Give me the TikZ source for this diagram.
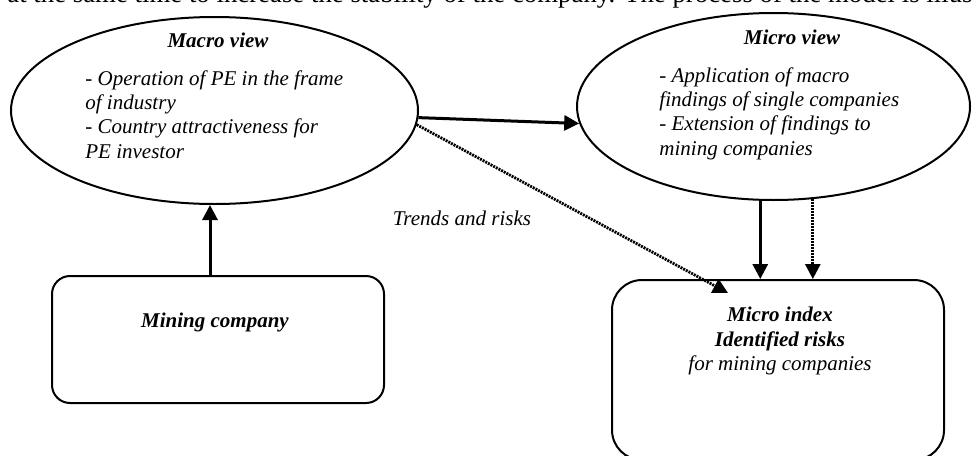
\documentclass[tikz,border=0pt]{standalone}
\usepackage{fontspec}
\setmainfont{Liberation Serif}
\usetikzlibrary{shapes.geometric,arrows.meta}

\begin{document}
\begin{tikzpicture}[
    x=0.5pt, y=-0.5pt,
    view/.style={draw, ellipse, line width=1pt, inner sep=0pt},
    box/.style={draw, rounded corners=9pt, line width=1pt, minimum width=166pt, inner sep=0pt},
    txt/.style={font=\fontsize{10.5}{12.2}\selectfont\itshape, inner sep=0pt},
    head/.style={txt, font=\fontsize{10.5}{12.2}\selectfont\bfseries\itshape},
    arr/.style={-{Triangle[length=7.5pt,width=7.5pt]}, line width=1.5pt},
    dotarr/.style={arr, line width=1.4pt, dash pattern=on 1pt off 0.5pt}
]
    \useasboundingbox (0,0) rectangle (972,455);

    % running text above the figure
    \node[anchor=base west, inner sep=0pt, font=\fontsize{13.4}{15}\selectfont] (above) at (7,3) {at the same time to increase the stability of the company. The process of the model is illustrated};

    % Macro
    \node[view, minimum width=203.5pt, minimum height=93.5pt] (macro) at (214.5,110.5) {};
    \node[head] (macrohead) at (218,40) {Macro view};
    \node[txt, align=left, anchor=north west] (macrotext) at (85,70) {- Operation of PE in the frame\\of industry\\- Country attractiveness for\\PE investor};

    % Micro
    \node[view, minimum width=196.5pt, minimum height=93.5pt] (micro) at (773.5,106.5) {};
    \node[head] (microhead) at (792,37) {Micro view};
    \node[txt, align=left, anchor=north west] (microtext) at (659,67) {- Application of macro\\findings of single companies\\- Extension of findings to\\mining companies};

    % Boxes
    \node[box, minimum height=63.5pt] (mining) at (218,339.5) {};
    \node[head] (mininghead) at (215,322) {Mining company};
    \node[box, rounded corners=15pt, minimum height=90pt] (index) at (778,370) {};
    \node[txt, align=center] (indextext) at (780,341) {\textbf{Micro index}\\\textbf{Identified risks}\\for mining companies};

    \node[txt] (trends) at (462,218) {Trends and risks};
    \coordinate (trendend) at (728,293);
    \coordinate (minetop) at ([xshift=-4pt]mining.north);

    % Connections
    \draw[arr] (minetop) -- (minetop |- macro.south);
    \draw[arr] (macro.-2) -- (micro.185);
    \draw[dotarr] (macro.-4) -- (trendend);
    \draw[arr] (micro.-98) -- (micro.-98 |- index.north);
    \draw[dotarr] (micro.-67) -- (micro.-67 |- index.north);
\end{tikzpicture}
\end{document}
